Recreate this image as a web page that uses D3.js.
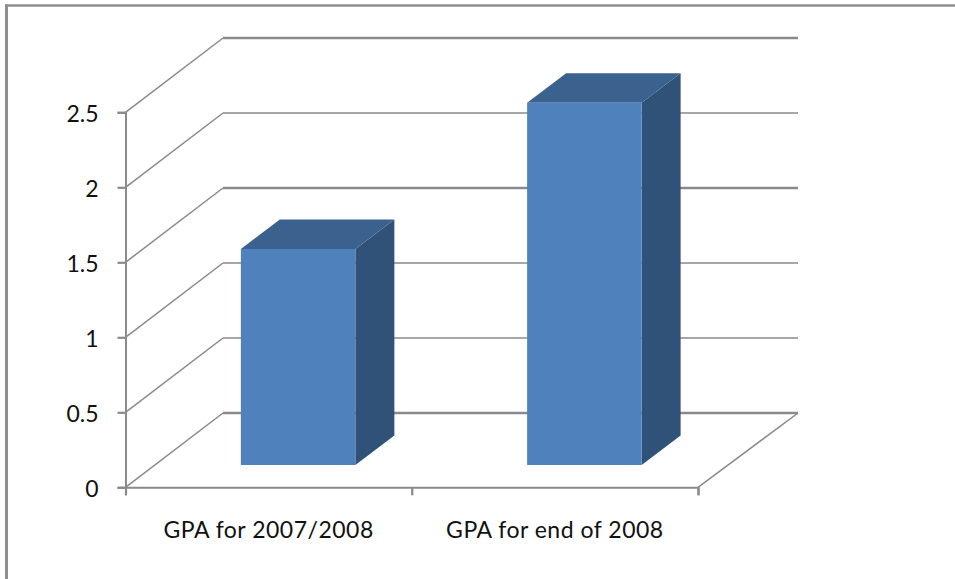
<!DOCTYPE html>
<html><head><meta charset="utf-8">
<script src="https://cdn.jsdelivr.net/npm/d3@7"></script>
<style>html,body{margin:0;padding:0;background:#fff}svg{display:block}</style>
</head><body><div id="c"></div>
<script>
const categories = ["GPA for 2007/2008", "GPA for end of 2008"];
const gpaValues = [1.44, 2.415];
const yTicks = [0, 0.5, 1, 1.5, 2, 2.5];
const thickGrid = [0, 1.5, 2.5];

const W = 955, H = 579;
const svg = d3.select("#c").append("svg").attr("width", W).attr("height", H);
const font = "Lato, 'Open Sans', sans-serif";
const grey = "#8a8a8a";

// chart frame
svg.append("line").attr("x1", 6.5).attr("x2", 6.5).attr("y1", 4.5).attr("y2", H).attr("stroke", "#8f8f8f").attr("stroke-width", 3);
svg.append("line").attr("x1", 5).attr("x2", W).attr("y1", 5.5).attr("y2", 5.5).attr("stroke", "#8f8f8f").attr("stroke-width", 2.3);

const y = d3.scaleLinear().domain([0, 2.5]).range([487.3, 112.3]);
const x = d3.scaleBand().domain(categories).range([125.5, 698]).paddingInner(0.6).paddingOuter(0.3);
const xTickScale = d3.scalePoint().domain(d3.range(categories.length + 1)).range([125.5, 698]);

const wall = {dx: 97.5, dy: -74.3};    // back wall offset
const barFront = {dx: 29.5, dy: -22.3}; // front face offset
const barDepth = {dx: 39, dy: -29.5};  // bar depth

// gridlines: side wall diagonal + back wall horizontal
const grid = svg.append("g").attr("fill", "none").attr("stroke", grey);
grid.selectAll("path.diag").data(yTicks).join("path").attr("class", "diag")
  .attr("stroke-width", 1.5)
  .attr("d", d => d3.line()([[125.5, y(d)], [125.5 + wall.dx, y(d) + wall.dy]]));
grid.selectAll("path.back").data(yTicks).join("path").attr("class", "back")
  .attr("stroke-width", d => thickGrid.includes(d) ? 2.4 : 1.5)
  .attr("d", d => d3.line()([[125.5 + wall.dx, y(d) + wall.dy], [798, y(d) + wall.dy]]));
// floor right edge
grid.append("path").attr("stroke-width", 1.5)
  .attr("d", d3.line()([[698, y(0)], [798, y(0) + wall.dy]]));

// axes
const axisY = d3.axisLeft(y).tickValues(yTicks).tickSize(8).tickPadding(19).tickFormat(d3.format("~g"));
const gy = svg.append("g").attr("transform", "translate(125.5,0)").call(axisY);
const axisX = d3.axisBottom(xTickScale).tickSize(8).tickFormat("");
const gx = svg.append("g").attr("transform", `translate(0,${y(0)})`).call(axisX);
[gy, gx].forEach(g => {
  g.selectAll(".domain").attr("stroke", grey).attr("stroke-width", 2);
  g.selectAll(".tick line").attr("stroke", grey).attr("stroke-width", 2.2);
});
gy.selectAll("text").attr("font-family", font).attr("font-size", 23).attr("fill", "#111").attr("dy", "0.42em");

// bars
const bars = svg.append("g").selectAll("g").data(categories.map((c, i) => ({c, v: gpaValues[i]}))).join("g");
const fx0 = d => x(d.c) + barFront.dx;
const fx1 = d => fx0(d) + x.bandwidth();
const fyTop = d => y(d.v) + barFront.dy;
const fyBot = () => y(0) + barFront.dy;
bars.append("path").attr("fill", "#315278").attr("d", d => d3.line()([
  [fx1(d), fyTop(d)], [fx1(d) + barDepth.dx, fyTop(d) + barDepth.dy],
  [fx1(d) + barDepth.dx, fyBot() + barDepth.dy], [fx1(d), fyBot()]]) + "Z");
bars.append("path").attr("fill", "#3b618e").attr("d", d => d3.line()([
  [fx0(d), fyTop(d)], [fx0(d) + barDepth.dx, fyTop(d) + barDepth.dy],
  [fx1(d) + barDepth.dx, fyTop(d) + barDepth.dy], [fx1(d), fyTop(d)]]) + "Z");
bars.append("rect").attr("fill", "#4f81bd")
  .attr("x", fx0).attr("y", fyTop).attr("width", x.bandwidth()).attr("height", d => fyBot() - fyTop(d));

// category labels
svg.append("g").selectAll("text").data(categories).join("text")
  .attr("x", d => x(d) + x.bandwidth() / 2).attr("y", 538)
  .attr("text-anchor", "middle").attr("font-family", font).attr("font-size", 23).attr("letter-spacing", 0.5).attr("fill", "#111")
  .text(d => d);
</script></body></html>
